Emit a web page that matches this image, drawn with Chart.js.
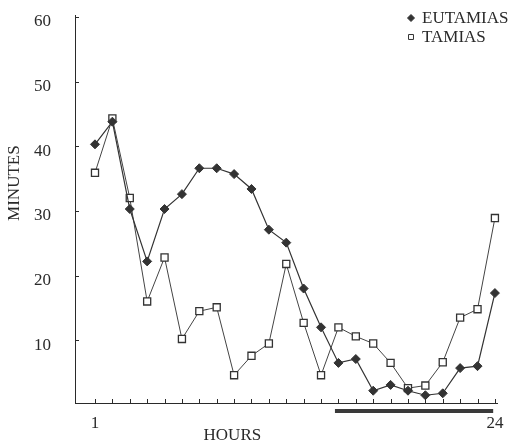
<!DOCTYPE html>
<html>
<head>
<meta charset="utf-8">
<script src="https://cdn.jsdelivr.net/npm/chart.js@4.4.1/dist/chart.umd.min.js"></script>
<style>
html, body { margin: 0; padding: 0; background: #fff; }
</style>
</head>
<body>
<canvas id="myChart" width="515" height="443"></canvas>
<script>
// data
const hours = [1, 2, 3, 4, 5, 6, 7, 8, 9, 10, 11, 12, 13, 14, 15, 16, 17, 18, 19, 20, 21, 22, 23, 24];
const eutamias = [40.3, 43.8, 30.3, 22.2, 30.3, 32.6, 36.6, 36.6, 35.7, 33.4, 27.1, 25.1,
                  18.0, 12.0, 6.5, 7.1, 2.2, 3.1, 2.2, 1.5, 1.8, 5.7, 6.0, 17.3];
const tamias = [35.9, 44.3, 32.0, 16.0, 22.8, 10.2, 14.5, 15.1, 4.6, 7.6, 9.5, 21.8,
                12.7, 4.6, 12.0, 10.6, 9.5, 6.5, 2.6, 3.0, 6.6, 13.5, 14.8, 28.9];
const yTicks = [10, 20, 30, 40, 50, 60];
const xTickLabels = [1, 24];
const darkPeriod = [14.8, 23.9];

const FONT = 'Liberation Serif';
const INK = '#2a2a2a';

// inward tick marks, dark bar, axis titles and legend
const extras = {
   id: 'extras',
   afterDraw(chart) {
      const c = chart.ctx;
      const x = chart.scales.x, y = chart.scales.y;
      c.save();
      c.strokeStyle = INK;
      c.lineWidth = 1;
      x.ticks.forEach((t, i) => {
         const px = Math.round(x.getPixelForTick(i)) + 0.5;
         c.beginPath(); c.moveTo(px, x.top); c.lineTo(px, x.top - 4); c.stroke();
      });
      y.ticks.forEach((t, i) => {
         const py = Math.round(y.getPixelForTick(i)) + 0.5;
         c.beginPath(); c.moveTo(y.right, py); c.lineTo(y.right + 4, py); c.stroke();
      });
      // dark period bar
      c.fillStyle = '#3a3a3a';
      const x0 = x.getPixelForValue(darkPeriod[0]);
      const x1 = x.getPixelForValue(darkPeriod[1]);
      c.fillRect(x0, x.top + 6, x1 - x0, 4);

      c.fillStyle = INK;
      c.font = '17px "' + FONT + '"';
      c.textBaseline = 'middle';
      c.textAlign = 'center';
      c.fillText('HOURS', x.getPixelForValue(8.9), 436);
      c.save();
      c.translate(15, y.getPixelForValue(34.3));
      c.rotate(-Math.PI / 2);
      c.fillText('MINUTES', 0, 0);
      c.restore();

      // legend
      c.textAlign = 'left';
      chart.data.datasets.forEach((ds, i) => {
         const ly = 18 + i * 19;
         c.fillStyle = ds.pointBackgroundColor;
         c.strokeStyle = ds.pointBorderColor;
         Chart.helpers.drawPoint(c, {
            pointStyle: ds.pointStyle,
            radius: 3.5,
            rotation: 0,
            borderWidth: 1
         }, 411, ly);
         c.fillStyle = INK;
         c.fillText(ds.label, 422, ly + 1);
      });
      c.restore();
   }
};

const ctx = document.getElementById('myChart');
const myChart = new Chart(ctx, {
   type: 'line',
   data: {
      datasets: [{
         label: 'EUTAMIAS',
         data: hours.map((h, i) => ({ x: h, y: eutamias[i] })),
         borderColor: '#333',
         borderWidth: 1.2,
         pointStyle: 'rectRot',
         pointRadius: 4.5,
         pointBackgroundColor: '#333',
         pointBorderColor: '#333',
         pointBorderWidth: 1,
         tension: 0
      }, {
         label: 'TAMIAS',
         data: hours.map((h, i) => ({ x: h, y: tamias[i] })),
         borderColor: '#444',
         borderWidth: 1,
         pointStyle: 'rect',
         pointRadius: 5,
         pointBackgroundColor: '#fff',
         pointBorderColor: '#333',
         pointBorderWidth: 1.3,
         tension: 0
      }]
   },
   options: {
      responsive: false,
      animation: false,
      clip: false,
      layout: { padding: { top: 15, right: 18, left: 0, bottom: 0 } },
      plugins: {
         legend: { display: false },
         tooltip: { enabled: false }
      },
      scales: {
         x: {
            type: 'linear',
            min: -0.15,
            max: 24.12,
            afterBuildTicks: (s) => { s.ticks = hours.map(v => ({ value: v })); },
            afterFit: (s) => { s.height = 40; s.paddingLeft = 0; s.paddingRight = 0; },
            grid: { drawOnChartArea: false, drawTicks: false },
            border: { color: INK, width: 1 },
            ticks: {
               autoSkip: false,
               maxRotation: 0,
               padding: 10,
               color: INK,
               font: { family: FONT, size: 17 },
               callback: (v) => xTickLabels.includes(v) ? String(v) : ''
            }
         },
         y: {
            type: 'linear',
            min: 0.3,
            max: 60.3,
            afterBuildTicks: (s) => { s.ticks = yTicks.map(v => ({ value: v })); },
            afterFit: (s) => { s.width = 75; s.paddingTop = 0; s.paddingBottom = 0; },
            grid: { drawOnChartArea: false, drawTicks: false },
            border: { color: INK, width: 1 },
            ticks: {
               padding: 24,
               labelOffset: 5,
               color: INK,
               font: { family: FONT, size: 17 }
            }
         }
      }
   },
   plugins: [extras]
});
</script>
</body>
</html>
